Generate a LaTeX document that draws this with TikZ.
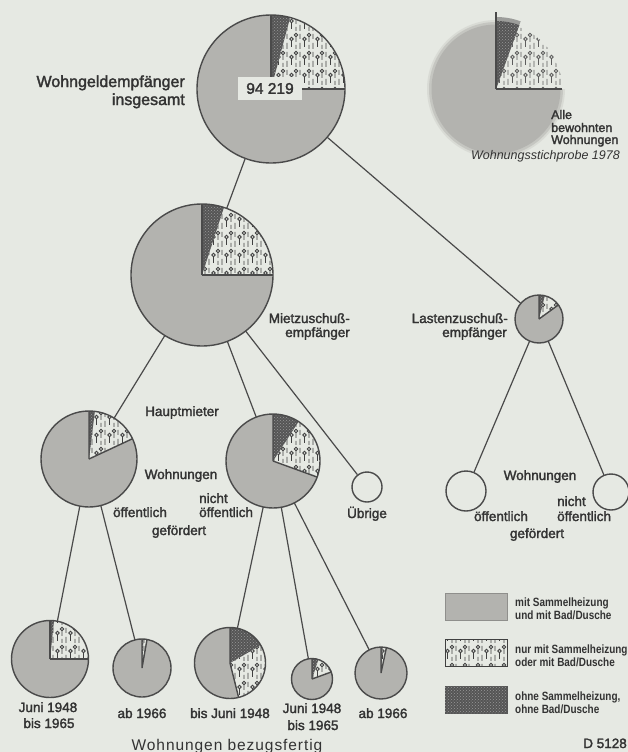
\documentclass[tikz,border=0pt]{standalone}
\usepackage{fontspec}
\setmainfont{Liberation Sans}
\newfontfamily\labfont[FakeBold=2]{Liberation Sans}
\newfontfamily\legfont[FakeStretch=0.83]{Liberation Sans}
\newfontfamily\wideFont[LetterSpace=6]{Liberation Sans}
\usetikzlibrary{patterns}
\definecolor{bgc}{HTML}{E6E9E3}
\definecolor{txtc}{HTML}{333333}
\definecolor{piegray}{HTML}{B3B3AF}
\definecolor{piedark}{HTML}{555555}
\definecolor{linec}{HTML}{4A4A4A}
\definecolor{patc}{HTML}{404040}
\pgfdeclarepatternformonly{tubes}{\pgfqpoint{-1pt}{-1pt}}{\pgfqpoint{14pt}{19pt}}{\pgfqpoint{13pt}{18pt}}{%
 \pgfsetlinewidth{0.85pt}%
 \pgfpathmoveto{\pgfqpoint{1pt}{1pt}}\pgfpathlineto{\pgfqpoint{1pt}{7pt}}%
 \pgfpathmoveto{\pgfqpoint{1pt}{11pt}}\pgfpathlineto{\pgfqpoint{1pt}{16pt}}%
 \pgfpathcircle{\pgfqpoint{5.5pt}{11pt}}{1.7pt}%
 \pgfpathmoveto{\pgfqpoint{5.5pt}{3pt}}\pgfpathlineto{\pgfqpoint{5.5pt}{9.3pt}}%
 \pgfpathmoveto{\pgfqpoint{10pt}{1pt}}\pgfpathlineto{\pgfqpoint{10pt}{5pt}}%
 \pgfpathcircle{\pgfqpoint{10pt}{15pt}}{1.7pt}%
 \pgfpathmoveto{\pgfqpoint{10pt}{8pt}}\pgfpathlineto{\pgfqpoint{10pt}{13.3pt}}%
 \pgfusepath{stroke}%
}
\tikzset{
 lbl/.style={font=\labfont\fontsize{13.5}{15}\selectfont, text=txtc, inner sep=0pt},
 biglbl/.style={font=\labfont\fontsize{16}{18}\selectfont, text=txtc, inner sep=0pt},
 smlbl/.style={font=\labfont\fontsize{12.5}{13}\selectfont, text=txtc, inner sep=0pt},
 leglbl/.style={font=\legfont\bfseries\fontsize{12}{13}\selectfont, text=txtc, inner sep=0pt},
 pieline/.style={draw=linec, line width=1.4pt},
 conn/.style={draw=linec, line width=1.2pt},
 darkfill/.style={fill=piedark, postaction={pattern=crosshatch dots, pattern color=piedark!60!white}},
 tubefill/.style={fill=bgc, postaction={pattern=tubes, pattern color=patc}},
 emptycirc/.style={circle, draw=linec, line width=1.4pt, inner sep=0pt, fill=bgc},
}
% name, x, y, r, a1 (dark end), a2 (pattern end)
\newcommand\pieat[6]{%
  \path (#2,-#3) node[circle, minimum size=#4*2pt, inner sep=0pt] (#1) {};
  \fill[piegray] (#1.center) -- ++(#6:#4pt) arc[start angle=#6,end angle=-270,radius=#4pt] -- cycle;
  \path[tubefill] (#1.center) -- ++(#5:#4pt) arc[start angle=#5,end angle=#6,radius=#4pt] -- cycle;
  \path[darkfill] (#1.center) -- ++(90:#4pt) arc[start angle=90,end angle=#5,radius=#4pt] -- cycle;
  \draw[pieline] (#1.center) -- ++(90:#4pt) (#1.center) -- ++(#6:#4pt);
  \draw[pieline] (#1.center) circle[radius=#4pt];
}
\begin{document}
\begin{tikzpicture}[x=1pt,y=1pt]
\useasboundingbox (0,0) rectangle (628,-752);
\fill[bgc] (0,0) rectangle (628,-752);

% ghost pie (all dwellings)
\coordinate (ghost) at (496,-89);
\fill[piegray, opacity=0.25] (ghost) -- ++(0:69pt) arc[start angle=0,end angle=-270,radius=69pt] -- cycle;
\fill[piegray, opacity=0.5] (ghost) -- ++(0:67pt) arc[start angle=0,end angle=-270,radius=67pt] -- cycle;
\fill[piegray] (ghost) -- ++(0:64.5pt) arc[start angle=0,end angle=-270,radius=64.5pt] -- cycle;
\path[darkfill, opacity=0.5] (ghost) -- ++(90:72pt) arc[start angle=90,end angle=70,radius=72pt] -- cycle;
\path[darkfill] (ghost) -- ++(90:68pt) arc[start angle=90,end angle=70,radius=68pt] -- cycle;
\path[pattern=tubes, pattern color=patc!85!white] (ghost) -- ++(70:66pt) arc[start angle=70,end angle=0,radius=66pt] -- cycle;
\draw[linec, line width=1.3pt] (ghost) -- ++(0,77) (ghost) -- ++(66,0);

% pies
\pieat{top}{271}{89}{74}{75}{0}
\pieat{miet}{202}{275}{71}{72}{0}
\pieat{last}{539}{319}{24}{76}{36}
\pieat{hmA}{89}{459}{48}{83}{25}
\pieat{hmB}{273}{461}{47}{57}{-20}
\pieat{bA}{50}{659}{38.5}{84}{0}
\pieat{bB}{142}{668}{29}{87}{80}
\pieat{bC}{230}{663}{35.5}{30}{-76}
\pieat{bD}{312}{679}{20.5}{72}{20}
\pieat{bE}{381}{673}{26}{86}{78}
\node[emptycirc, minimum size=30pt] (ueb) at (367,-487) {};
\node[emptycirc, minimum size=40pt] (lA) at (466,-491) {};
\node[emptycirc, minimum size=36pt] (lB) at (611,-492) {};

% connectors
\draw[conn] (top) -- (miet);
\draw[conn] (top) -- (last);
\draw[conn] (miet) -- (hmA);
\draw[conn] (miet) -- (hmB);
\draw[conn] (miet) -- (ueb);
\draw[conn] (hmA) -- (bA);
\draw[conn] (hmA) -- (bB);
\draw[conn] (hmB) -- (bC);
\draw[conn] (hmB) -- (bD);
\draw[conn] (hmB) -- (bE);
\draw[conn] (last) -- (lA);
\draw[conn] (last) -- (lB);

% total box
\node[fill=bgc, minimum width=64pt, minimum height=23pt, inner sep=0pt, font=\labfont\fontsize{15.5}{17}\selectfont, text=txtc] (total) at (270,-88.5) {94 219};

% labels
\node[biglbl, anchor=base east] (t1) at (185,-87) {Wohngeldempfänger};
\node[biglbl, anchor=base east] (t2) at (185,-105) {insgesamt};
\node[smlbl, anchor=base west] (g1) at (551,-119) {Alle};
\node[smlbl, anchor=base west] (g2) at (551,-132) {bewohnten};
\node[smlbl, anchor=base west] (g3) at (551,-144) {Wohnungen};
\node[smlbl, anchor=base east, font=\fontsize{12.5}{13}\selectfont\itshape] (g4) at (620,-159) {Wohnungsstichprobe 1978};
\node[lbl, anchor=base east] (m1) at (350,-323) {Mietzuschuß-};
\node[lbl, anchor=base east] (m2) at (350,-337) {empfänger};
\node[lbl, anchor=base east] (l1) at (508,-323) {Lastenzuschuß-};
\node[lbl, anchor=base east] (l2) at (507,-337) {empfänger};
\node[lbl, anchor=base] (h1) at (182,-416) {Hauptmieter};
\node[lbl, anchor=base] (h2) at (181,-479) {Wohnungen};
\node[lbl, anchor=base] (h3) at (140,-517) {öffentlich};
\node[lbl, anchor=base west] (h4) at (199,-503) {nicht};
\node[lbl, anchor=base west] (h5) at (199,-517) {öffentlich};
\node[lbl, anchor=base] (h6) at (179,-535) {gefördert};
\node[lbl, anchor=base] (u1) at (367,-518) {Übrige};
\node[lbl, anchor=base] (r1) at (540,-480) {Wohnungen};
\node[lbl, anchor=base west] (r2) at (557,-506) {nicht};
\node[lbl, anchor=base west] (r3) at (557,-521) {öffentlich};
\node[lbl, anchor=base] (r4) at (501,-521) {öffentlich};
\node[lbl, anchor=base] (r5) at (537,-538) {gefördert};
\node[lbl, anchor=base] (b1) at (48,-712) {Juni 1948};
\node[lbl, anchor=base] (b2) at (49,-728) {bis 1965};
\node[lbl, anchor=base] (b3) at (142,-718) {ab 1966};
\node[lbl, anchor=base] (b4) at (230,-718) {bis Juni 1948};
\node[lbl, anchor=base] (b5) at (312,-713) {Juni 1948};
\node[lbl, anchor=base] (b6) at (313,-730) {bis 1965};
\node[lbl, anchor=base] (b7) at (383,-718) {ab 1966};
\node[inner sep=0pt, text=txtc, font=\wideFont\fontsize{15.5}{17}\selectfont, anchor=base] (wb) at (227,-750) {Wohnungen bezugsfertig};
\node[lbl, anchor=base east] (dn) at (627,-748) {D 5128};

% legend
\node[draw=piegray!80!black, line width=0.8pt, fill=piegray, minimum width=62pt, minimum height=27pt, inner sep=0pt] (k1) at (476,-606.5) {};
\node[draw=patc, line width=0.8pt, tubefill, minimum width=62pt, minimum height=27pt, inner sep=0pt] (k2) at (476,-652.5) {};
\node[draw=piedark, line width=0.8pt, darkfill, minimum width=62pt, minimum height=27pt, inner sep=0pt] (k3) at (476,-699.5) {};
\node[leglbl, anchor=base west] (k1a) at (515,-606) {mit Sammelheizung};
\node[leglbl, anchor=base west] (k1b) at (515,-619) {und mit Bad/Dusche};
\node[leglbl, anchor=base west] (k2a) at (515,-653) {nur mit Sammelheizung};
\node[leglbl, anchor=base west] (k2b) at (515,-666) {oder mit Bad/Dusche};
\node[leglbl, anchor=base west] (k3a) at (515,-700) {ohne Sammelheizung,};
\node[leglbl, anchor=base west] (k3b) at (515,-713) {ohne Bad/Dusche};
\end{tikzpicture}
\end{document}
